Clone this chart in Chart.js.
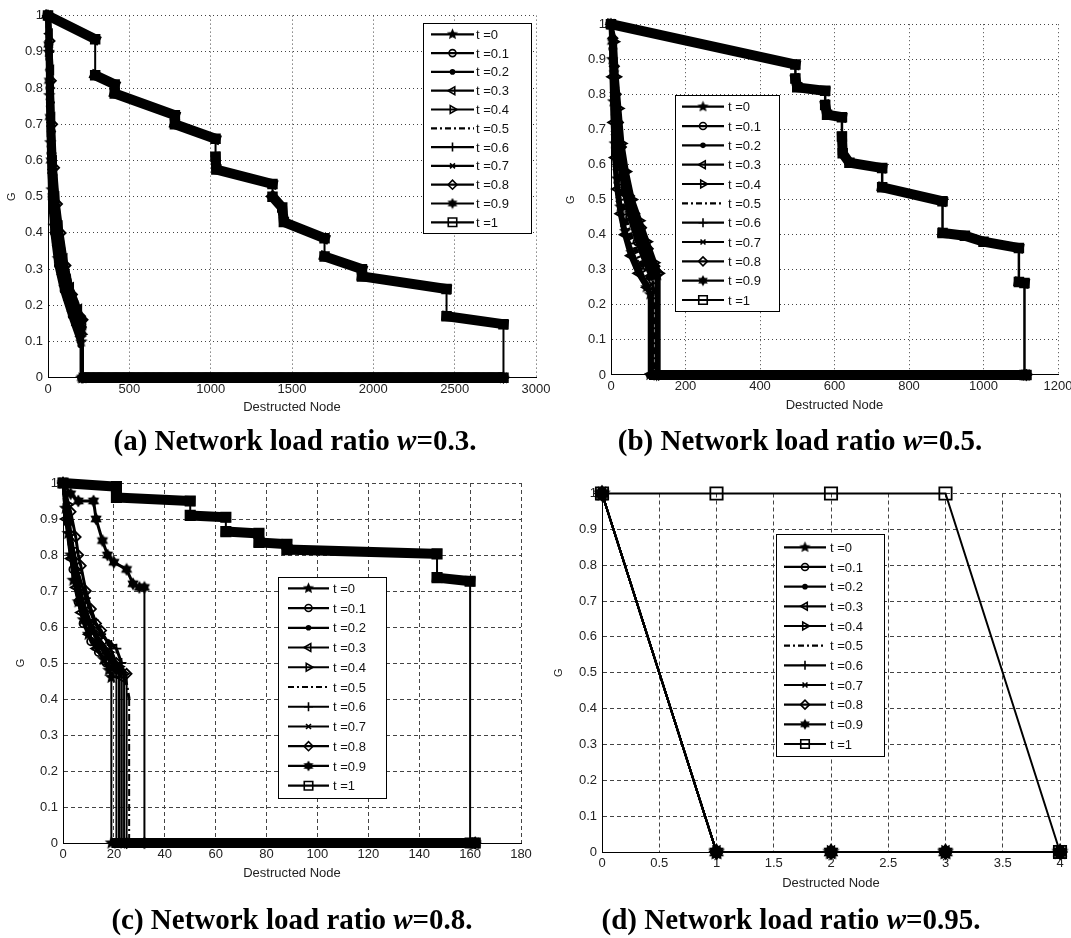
<!DOCTYPE html>
<html>
<head>
<meta charset="utf-8">
<script src="https://cdn.jsdelivr.net/npm/chart.js@4.4.0/dist/chart.umd.min.js"></script>
<style>
    html, body { margin: 0; padding: 0; background: #fff; }
    #page { position: relative; width: 1071px; height: 938px; overflow: hidden; background: #fff; }
    #page canvas { position: absolute; left: 0; top: 0; }
    .cap {
        position: absolute;
        transform: translateX(-50%);
        white-space: nowrap;
        font-family: "Liberation Serif", "Times New Roman", serif;
        font-weight: bold;
        font-size: 29px;
        line-height: 32px;
        color: #000;
    }
</style>
</head>
<body>
<div id="page">
    <canvas id="chartA" width="1071" height="938"></canvas>
    <canvas id="chartB" width="1071" height="938"></canvas>
    <canvas id="chartC" width="1071" height="938"></canvas>
    <canvas id="chartD" width="1071" height="938"></canvas>
    <div class="cap" style="left:295px; top:424px;">(a) Network load ratio <i>w</i>=0.3.</div>
    <div class="cap" style="left:800px; top:424px;">(b) Network load ratio <i>w</i>=0.5.</div>
    <div class="cap" style="left:292px; top:903px;">(c) Network load ratio <i>w</i>=0.8.</div>
    <div class="cap" style="left:791px; top:903px;">(d) Network load ratio <i>w</i>=0.95.</div>
</div>

<script>
    // legend labels + tick values
    const seriesLabels = ['t =0', 't =0.1', 't =0.2', 't =0.3', 't =0.4', 't =0.5',
                          't =0.6', 't =0.7', 't =0.8', 't =0.9', 't =1'];
    const yTicks = [0, 0.1, 0.2, 0.3, 0.4, 0.5, 0.6, 0.7, 0.8, 0.9, 1];
    const aXTicks = [0, 500, 1000, 1500, 2000, 2500, 3000];
    const bXTicks = [0, 200, 400, 600, 800, 1000, 1200];
    const cXTicks = [0, 20, 40, 60, 80, 100, 120, 140, 160, 180];
    const dXTicks = [0, 0.5, 1, 1.5, 2, 2.5, 3, 3.5, 4];

    // (a) w=0.3  -- [destructed node, G]
    const aT0  = [[0,1],[4,0.9],[8,0.78],[14,0.65],[22,0.52],[35,0.42],[60,0.33],[100,0.25],[150,0.18],[200,0.11],[205,0.1],[205,0],[2800,0]];
    const aT01 = [[0,1],[6,0.92],[12,0.8],[20,0.68],[30,0.56],[48,0.45],[75,0.36],[115,0.28],[160,0.21],[210,0.16],[210,0],[2800,0]];
    const aT02 = [[0,1],[2,0.88],[5,0.75],[9,0.62],[16,0.5],[30,0.4],[55,0.31],[90,0.24],[140,0.17],[195,0.1],[200,0.09],[200,0],[2800,0]];
    const aT03 = [[0,1],[10,0.95],[18,0.85],[25,0.72],[35,0.6],[50,0.5],[70,0.42],[100,0.33],[140,0.25],[190,0.19],[215,0.15],[215,0],[2800,0]];
    const aT04 = [[0,1],[3,0.9],[7,0.8],[12,0.68],[20,0.56],[32,0.46],[52,0.38],[85,0.3],[130,0.22],[185,0.14],[208,0.12],[208,0],[2800,0]];
    const aT05 = [[0,1],[5,0.86],[10,0.74],[18,0.6],[28,0.5],[45,0.4],[75,0.31],[120,0.23],[175,0.16],[212,0.13],[212,0],[2800,0]];
    const aT06 = [[0,1],[8,0.9],[15,0.76],[24,0.62],[38,0.5],[60,0.4],[95,0.31],[135,0.24],[180,0.18],[210,0.14],[210,0],[2800,0]];
    const aT07 = [[0,1],[3,0.85],[7,0.7],[13,0.57],[24,0.46],[42,0.37],[70,0.29],[110,0.22],[160,0.15],[203,0.1],[203,0],[2800,0]];
    const aT08 = [[0,1],[12,0.93],[20,0.82],[28,0.7],[40,0.58],[58,0.48],[80,0.4],[110,0.31],[150,0.23],[200,0.17],[215,0.16],[215,0],[2800,0]];
    const aT09 = [[0,1],[2,0.92],[6,0.82],[10,0.72],[17,0.6],[27,0.5],[45,0.41],[72,0.33],[110,0.26],[160,0.2],[205,0.14],[207,0.13],[207,0],[2800,0]];
    const aT1  = [[0,1],[290,0.935],[290,0.835],[410,0.81],[410,0.785],[780,0.725],[780,0.70],[1030,0.66],[1030,0.61],[1035,0.575],
                  [1380,0.535],[1380,0.50],[1440,0.47],[1450,0.43],[1700,0.385],[1700,0.335],[1930,0.30],[1930,0.28],
                  [2450,0.245],[2450,0.17],[2800,0.148],[2800,0]];

    // (b) w=0.5
    const bT0  = [[0,1],[3,0.9],[6,0.78],[10,0.66],[16,0.56],[25,0.48],[38,0.41],[55,0.35],[75,0.3],[95,0.25],[105,0.23],[105,0],[1115,0]];
    const bT01 = [[0,1],[5,0.93],[10,0.82],[16,0.7],[24,0.6],[35,0.52],[50,0.45],[70,0.38],[95,0.31],[112,0.27],[112,0],[1115,0]];
    const bT02 = [[0,1],[8,0.9],[14,0.8],[20,0.7],[28,0.62],[40,0.55],[55,0.48],[75,0.42],[100,0.35],[120,0.3],[125,0.28],[125,0],[1115,0]];
    const bT03 = [[0,1],[2,0.85],[5,0.72],[9,0.62],[15,0.53],[24,0.46],[36,0.4],[52,0.34],[72,0.29],[95,0.25],[108,0.24],[108,0],[1115,0]];
    const bT04 = [[0,1],[10,0.95],[15,0.85],[22,0.76],[30,0.66],[42,0.58],[58,0.5],[78,0.44],[98,0.38],[118,0.32],[130,0.29],[130,0],[1115,0]];
    const bT05 = [[0,1],[4,0.88],[8,0.76],[13,0.65],[20,0.56],[30,0.49],[45,0.42],[65,0.36],[88,0.3],[110,0.26],[115,0.25],[115,0],[1115,0]];
    const bT06 = [[0,1],[6,0.9],[12,0.78],[18,0.68],[26,0.6],[38,0.52],[52,0.46],[68,0.41],[88,0.36],[108,0.31],[120,0.29],[120,0],[1115,0]];
    const bT07 = [[0,1],[2,0.9],[4,0.8],[7,0.69],[12,0.59],[20,0.5],[32,0.43],[48,0.37],[68,0.32],[90,0.27],[102,0.25],[102,0],[1115,0]];
    const bT08 = [[0,1],[5,0.96],[9,0.88],[14,0.8],[20,0.72],[28,0.65],[38,0.58],[50,0.51],[64,0.46],[82,0.42],[100,0.36],[118,0.31],[128,0.29],[128,0],[1115,0]];
    const bT09 = [[0,1],[3,0.95],[8,0.86],[13,0.75],[19,0.66],[26,0.6],[36,0.53],[48,0.47],[62,0.43],[78,0.39],[96,0.33],[112,0.29],[122,0.28],[122,0],[1115,0]];
    const bT1  = [[0,1],[495,0.885],[495,0.845],[500,0.82],[575,0.81],[575,0.77],[580,0.742],[620,0.735],[620,0.68],[622,0.632],
                  [640,0.605],[728,0.59],[728,0.535],[890,0.495],[890,0.405],[950,0.397],[1000,0.38],[1095,0.362],
                  [1095,0.265],[1110,0.262],[1110,0],[1115,0]];

    // (c) w=0.8
    const cT0  = [[0,1],[1,0.93],[2,0.86],[3,0.8],[4,0.73],[6,0.67],[8,0.62],[10,0.58],[13,0.55],[16,0.51],[18,0.48],[19,0.46],[19,0],[162,0]];
    const cT01 = [[0,1],[2,0.89],[4,0.76],[6,0.67],[8,0.61],[11,0.56],[14,0.53],[17,0.5],[20,0.48],[21,0.47],[21,0],[162,0]];
    const cT02 = [[0,1],[1,0.94],[3,0.83],[5,0.73],[8,0.64],[11,0.59],[15,0.55],[19,0.51],[22,0.48],[22,0],[162,0]];
    const cT03 = [[0,1],[1,0.9],[3,0.79],[5,0.71],[7,0.64],[10,0.58],[13,0.54],[17,0.5],[21,0.48],[23,0.46],[23,0],[162,0]];
    const cT04 = [[0,1],[2,0.94],[3,0.86],[5,0.76],[8,0.67],[11,0.61],[14,0.57],[18,0.53],[22,0.49],[24,0.47],[24,0],[162,0]];
    const cT05 = [[0,1],[1,0.91],[3,0.81],[5,0.73],[8,0.65],[12,0.59],[16,0.55],[20,0.51],[24,0.48],[26,0.4],[26,0],[162,0]];
    const cT06 = [[0,1],[2,0.9],[4,0.82],[6,0.75],[9,0.68],[12,0.62],[15,0.58],[19,0.55],[21,0.54],[23,0.5],[23,0],[162,0]];
    const cT07 = [[0,1],[1,0.93],[3,0.84],[5,0.75],[8,0.66],[11,0.6],[14,0.55],[17,0.52],[20,0.49],[22,0.48],[22,0],[162,0]];
    const cT08 = [[0,1],[3,0.92],[5,0.85],[6,0.8],[7,0.77],[9,0.7],[11,0.65],[13,0.61],[15,0.59],[18,0.55],[21,0.5],[25,0.47],[25,0],[162,0]];
    const cT09 = [[0,1],[3,0.97],[6,0.95],[12,0.95],[13,0.9],[15.5,0.84],[17.5,0.8],[20,0.78],[25,0.76],[27.5,0.72],[30,0.71],[32,0.71],[32,0],[162,0]];
    const cT1  = [[0,1],[21,0.99],[21,0.96],[50,0.95],[50,0.91],[64,0.905],[64,0.865],[77,0.86],[77,0.835],[88,0.83],[88,0.815],
                  [147,0.803],[147,0.737],[160,0.727],[160,0],[162,0]];

    // (d) w=0.95 : every t<1 collapses after the first node
    const dCollapse = [[0,1],[1,0],[2,0],[3,0],[4,0]];
    const dT1 = [[0,1],[1,1],[2,1],[3,1],[4,0]];

    // pentagram / hexagram markers (chart.js has no such shapes), cached per size
    const starCache = {};
    function starMarker(points, r) {
        const size = Math.round(2 * r + 2);
        const key = points + '_' + size;
        if (starCache[key]) return starCache[key];
        const c = document.createElement('canvas');
        c.width = c.height = size;
        const g = c.getContext('2d');
        const inner = points === 5 ? 0.45 : 0.6;
        const m = size / 2, ro = size / 2 - 0.5;
        g.beginPath();
        for (let i = 0; i < points * 2; i++) {
            const rr = i % 2 ? ro * inner : ro;
            const a = -Math.PI / 2 + i * Math.PI / points;
            g.lineTo(m + rr * Math.cos(a), m + rr * Math.sin(a));
        }
        g.closePath();
        g.fillStyle = '#000';
        g.fill();
        starCache[key] = c;
        return c;
    }

    const markers = [
        { style: 'penta', r: 6 },
        { style: 'circle', r: 3.5 },
        { style: 'circle', r: 2, fill: true },
        { style: 'triangle', r: 4.5, rot: -90 },
        { style: 'triangle', r: 4.5, rot: 90 },
        { style: null, r: 0 },
        { style: 'cross', r: 4.5 },
        { style: 'crossRot', r: 3.5 },
        { style: 'rectRot', r: 4.5 },
        { style: 'hexa', r: 5.5 },
        { style: 'rect', r: 6 }
    ];

    function resolveStyle(m, scale) {
        if (m.style === 'penta') return starMarker(5, m.r * scale);
        if (m.style === 'hexa') return starMarker(6, m.r * scale);
        return m.style || 'circle';
    }

    const FONT = '"Liberation Sans", Arial, sans-serif';

    // legend box drawn inside the plot, like matlab
    const boxLegend = {
        id: 'boxLegend',
        afterDatasetsDraw(chart, args, o) {
            const ctx = chart.ctx;
            ctx.save();
            ctx.fillStyle = '#fff';
            ctx.fillRect(o.x, o.y, o.w, o.h);
            ctx.strokeStyle = '#000';
            ctx.lineWidth = 1;
            ctx.strokeRect(o.x + 0.5, o.y + 0.5, o.w, o.h);
            ctx.font = '13px ' + FONT;
            ctx.textBaseline = 'middle';
            chart.data.datasets.forEach((ds, i) => {
                const y = o.rowY + i * o.rowStep;
                ctx.strokeStyle = '#000';
                ctx.lineWidth = 2.2;
                ctx.setLineDash(i === 5 ? [6, 3, 2, 3] : []);
                ctx.beginPath();
                ctx.moveTo(o.lineX0, y);
                ctx.lineTo(o.lineX1, y);
                ctx.stroke();
                ctx.setLineDash([]);
                const m = markers[i];
                if (m.style) {
                    ctx.fillStyle = m.fill ? '#000' : 'rgba(0,0,0,0)';
                    ctx.lineWidth = 1.6;
                    Chart.helpers.drawPoint(ctx, {
                        pointStyle: resolveStyle(m, 0.9), rotation: m.rot || 0, radius: m.r, borderWidth: 1.6
                    }, (o.lineX0 + o.lineX1) / 2, y);
                }
                ctx.fillStyle = '#111';
                ctx.fillText(ds.label, o.textX, y + 1);
            });
            ctx.restore();
        }
    };

    function makeDataset(pts, i, p) {
        const m = markers[i];
        const lineW = i === 10 ? p.bandW : p.curveW;
        return {
            label: seriesLabels[i],
            data: pts.map(q => ({ x: q[0], y: q[1] })),
            borderColor: '#000',
            borderWidth: lineW,
            borderDash: i === 5 ? [7, 3, 2, 3] : [],
            borderCapStyle: (i === 10 && p.bandW > 3) ? 'square' : 'butt',
            pointStyle: resolveStyle(m, p.markScale),
            pointRadius: m.style ? m.r * p.markScale : 0,
            pointRotation: m.rot || 0,
            pointBorderWidth: p.markBorder,
            pointBorderColor: '#000',
            pointBackgroundColor: m.fill ? '#000' : 'rgba(0,0,0,0)',
            tension: 0,
            clip: false,
            segment: {
                borderWidth: ctx => {
                    const p0 = pts[ctx.p0DataIndex], p1 = pts[ctx.p1DataIndex];
                    if (p0[0] === p1[0]) return p.dropW;
                    if (p0[1] === 0 && p1[1] === 0) return p.bandW;
                    return lineW;
                }
            }
        };
    }

    const W = 1071, H = 938;
    const panels = [
        {
            id: 'chartA', xMax: 3000, xTicks: aXTicks, dash: [1, 3],
            series: [aT0, aT01, aT02, aT03, aT04, aT05, aT06, aT07, aT08, aT09, aT1],
            area: { l: 48, r: 536, t: 15.6, b: 377.8 }, gX: 12, xTitleY: 407,
            curveW: 5, bandW: 10, dropW: 2, markScale: 1, markBorder: 2,
            legend: { x: 423, y: 23, w: 108, h: 210, rowY: 34.3, rowStep: 18.8, lineX0: 431, lineX1: 474, textX: 476 }
        },
        {
            id: 'chartB', xMax: 1200, xTicks: bXTicks, dash: [1, 3],
            series: [bT0, bT01, bT02, bT03, bT04, bT05, bT06, bT07, bT08, bT09, bT1],
            area: { l: 611, r: 1058, t: 24.2, b: 375 }, gX: 571, xTitleY: 405,
            curveW: 4.5, bandW: 10, dropW: 2.5, markScale: 1, markBorder: 2,
            legend: { x: 675, y: 95, w: 104, h: 216, rowY: 106.7, rowStep: 19.33, lineX0: 682, lineX1: 724, textX: 728 }
        },
        {
            id: 'chartC', xMax: 180, xTicks: cXTicks, dash: [4, 3],
            series: [cT0, cT01, cT02, cT03, cT04, cT05, cT06, cT07, cT08, cT09, cT1],
            area: { l: 63, r: 521, t: 483, b: 843 }, gX: 21, xTitleY: 873,
            curveW: 3, bandW: 10, dropW: 2, markScale: 1.1, markBorder: 1.8,
            legend: { x: 278, y: 577, w: 108, h: 221, rowY: 588.3, rowStep: 19.74, lineX0: 288, lineX1: 329, textX: 333 }
        },
        {
            id: 'chartD', xMax: 4, xTicks: dXTicks, dash: [4, 3],
            series: [dCollapse, dCollapse, dCollapse, dCollapse, dCollapse, dCollapse,
                     dCollapse, dCollapse, dCollapse, dCollapse, dT1],
            area: { l: 602, r: 1060, t: 493.5, b: 852 }, gX: 559, xTitleY: 883,
            curveW: 2, bandW: 2, dropW: 2, markScale: 1.45, markBorder: 1.8,
            legend: { x: 776, y: 534, w: 108, h: 222, rowY: 547.3, rowStep: 19.67, lineX0: 784, lineX1: 826, textX: 830 }
        }
    ];

    panels.forEach(p => {
        const padLeft = p.gX - 10.6;           // y title centre = left + 6.6 + 4
        const yW = p.area.l - padLeft;
        const xH = p.xTitleY - p.area.b + 7.8 + 4;

        new Chart(document.getElementById(p.id), {
            type: 'line',
            data: { datasets: p.series.map((s, i) => makeDataset(s, i, p)) },
            options: {
                responsive: false,
                animation: false,
                events: [],
                layout: {
                    padding: { left: padLeft, top: p.area.t, right: W - p.area.r, bottom: H - p.area.b - xH }
                },
                plugins: {
                    legend: { display: false },
                    tooltip: { enabled: false },
                    boxLegend: p.legend
                },
                scales: {
                    x: {
                        type: 'linear', min: 0, max: p.xMax,
                        afterBuildTicks: s => { s.ticks = p.xTicks.map(v => ({ value: v })); },
                        afterFit: s => { s.height = xH; s.paddingLeft = 0; s.paddingRight = 0; },
                        grid: { color: '#444', lineWidth: 1, drawTicks: false },
                        border: { color: '#000', width: 1, dash: p.dash },
                        ticks: { padding: 4, color: '#222', maxRotation: 0, autoSkip: false,
                                 font: { family: FONT, size: 13 }, callback: v => String(v) },
                        title: { display: true, text: 'Destructed Node', color: '#222',
                                 font: { family: FONT, size: 13 }, padding: { top: 0, bottom: 4 } }
                    },
                    y: {
                        type: 'linear', min: 0, max: 1,
                        afterBuildTicks: s => { s.ticks = yTicks.map(v => ({ value: v })); },
                        afterFit: s => { s.width = yW; s.paddingTop = 0; s.paddingBottom = 0; },
                        grid: { color: '#444', lineWidth: 1, drawTicks: false },
                        border: { color: '#000', width: 1, dash: p.dash },
                        ticks: { padding: 5, color: '#222', autoSkip: false,
                                 font: { family: FONT, size: 13 }, callback: v => String(v) },
                        title: { display: true, text: 'G', color: '#222',
                                 font: { family: FONT, size: 11 }, padding: { top: 4, bottom: 0 } }
                    }
                }
            },
            plugins: [boxLegend]
        });
    });
</script>
</body>
</html>
